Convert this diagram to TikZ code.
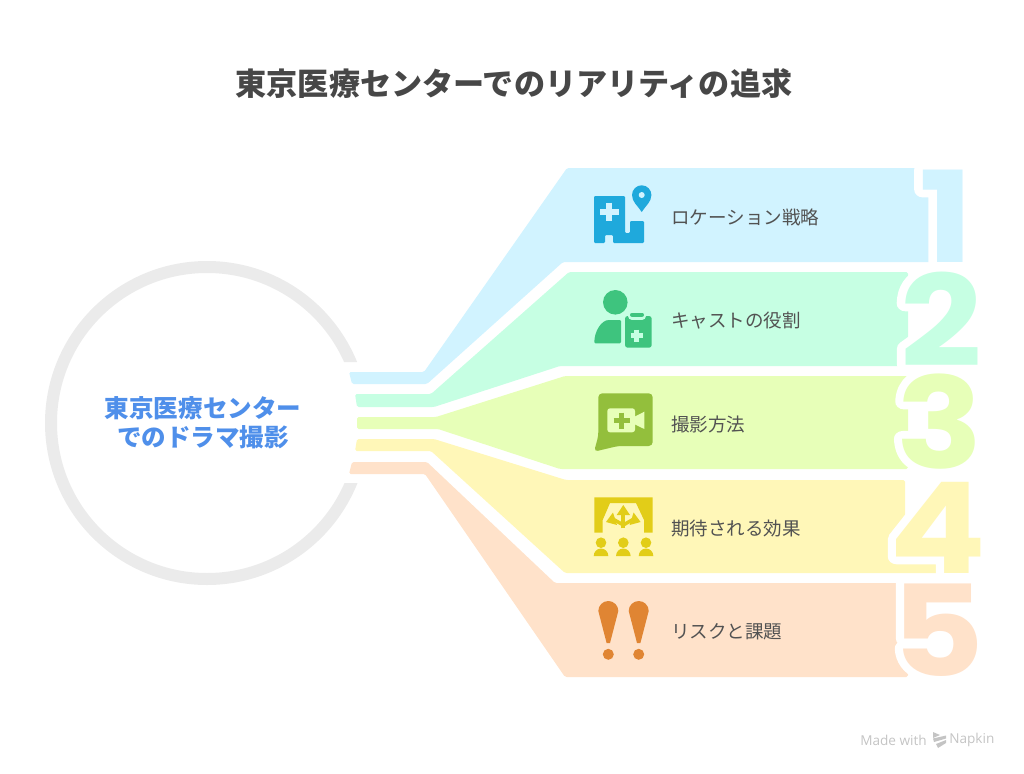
\documentclass[tikz,border=0pt]{standalone}
\usepackage{xcolor}
\usepackage{graphicx}
\usepackage{fontspec}
\setmainfont{Noto Sans CJK JP}
\newfontfamily\digitfont{Poppins}
\newfontfamily\footfont{Open Sans}
\definecolor{band1}{HTML}{D1F3FF}
\definecolor{band2}{HTML}{C6FFE3}
\definecolor{band3}{HTML}{E7FFB8}
\definecolor{band4}{HTML}{FFF7B8}
\definecolor{band5}{HTML}{FFE2CA}
\definecolor{icon1}{HTML}{1FA9DC}
\definecolor{icon2}{HTML}{3EC47E}
\definecolor{icon3}{HTML}{93BF3C}
\definecolor{icon4}{HTML}{E2CD18}
\definecolor{icon5}{HTML}{E08533}
\definecolor{centerblue}{HTML}{4F8FEA}
\newcommand{\bigdigit}[1]{\scalebox{1.13}[1]{\rlap{\color{white}\special{pdf:code 2 Tr 11.6 w 1 j}#1\special{pdf:code 0 Tr 1 w 0 j}}#1}}
\tikzstyle{itemtext} = [inner sep=0pt, anchor=west, text=black!68, font=\fontsize{13.9}{16}\selectfont]
\tikzstyle{bignum} = [inner sep=0pt, anchor=base, font=\digitfont\bfseries\fontsize{95}{95}\selectfont]
\tikzstyle{band} = [rounded corners=1.2pt]
\begin{document}
\begin{tikzpicture}[x=0.75pt, y=-0.75pt]
		\useasboundingbox (0,0) rectangle (1024,774);
		\node (0title) [inner sep=0pt, text=black!72, font=\bfseries\fontsize{23.35}{28}\selectfont] at (514,84) {東京医療センターでのリアリティの追求};

		% ring
		\begin{scope}
			\clip (30,250) -- (370,250) -- (370,362) -- (300,362) -- (300,483) -- (370,483) -- (370,600) -- (30,600) -- cycle;
			\draw [line width=9pt, black!8] (207,423) circle [radius=156];
		\end{scope}
		\node (0center) [align=center, inner sep=0pt, text=centerblue, font=\bfseries\fontsize{18.4}{22}\selectfont] at (203,423) {東京医療センター\\でのドラマ撮影};

		% bands
		\fill [band, band1] (349,372) -- (424,372) -- (567,168) -- (945,168) -- (945,262) -- (563,262) -- (427,384) -- (352,384) -- cycle;
		\fill [band, band2] (355,394) -- (431,394) -- (569,272) -- (908,272) -- (908,366) -- (560,366) -- (434,407) -- (357,407) -- cycle;
		\fill [band, band3] (357,417) -- (436,417) -- (565,376) -- (908,376) -- (908,469) -- (560,469) -- (438,429) -- (357,429) -- cycle;
		\fill [band, band4] (357,439) -- (434,439) -- (566,480) -- (905,480) -- (905,560) -- (945,560) -- (945,573) -- (565,573) -- (431,451) -- (355,451) -- cycle;
		\fill [band, band5] (352,462) -- (427,462) -- (555,583) -- (908,583) -- (908,677) -- (565,677) -- (425,474) -- (349,474) -- cycle;

		\node (1num) [bignum, text=band1] at (946,262) {\bigdigit{1}};
		\node (2num) [bignum, text=band2] at (941,366) {\bigdigit{2}};
		\node (3num) [bignum, text=band3] at (940,468) {\bigdigit{3}};
		\node (4num) [bignum, text=band4] at (938,573) {\bigdigit{4}};
		\node (5num) [bignum, text=band5] at (938,676) {\bigdigit{5}};

		\node (1label) [itemtext] at (671,217) {ロケーション戦略};
		\node (2label) [itemtext, yshift=-77.8pt] at (1label.west) {キャストの役割};
		\node (3label) [itemtext, yshift=-77.8pt] at (2label.west) {撮影方法};
		\node (4label) [itemtext, yshift=-77.8pt] at (3label.west) {期待される効果};
		\node (5label) [itemtext, yshift=-77.8pt] at (4label.west) {リスクと課題};

		% hospital and pin
		\fill [icon1, rounded corners=0.8pt] (594,196) -- (625,196) -- (625,233) -- (630,233) -- (630,221) -- (644,221) -- (644,243) -- (613,243) -- (613,235) -- (605,235) -- (605,243) -- (594,243) -- cycle;
		\draw [band1, line width=4.5pt] (600,211.7) -- (618.5,211.7);
		\draw [band1, line width=4.5pt] (609.3,202.5) -- (609.3,221);
		\fill [icon1] (641.7,212) .. controls (638,206) and (632,202) .. (632,195) arc [start angle=180, end angle=360, radius=9.7] .. controls (651.4,202) and (645.4,206) .. (641.7,212) -- cycle;
		\fill [band1] (641.7,195) circle [radius=3];

		% person and clipboard
		\fill [icon2] (615.3,302.3) circle [radius=12.3];
		\fill [icon2, rounded corners=0.8pt] (594.3,343.3) -- (621,343.3) -- (621,320) -- (610,320) .. controls (601,320) and (594.3,332) .. (594.3,343.3) -- cycle;
		\fill [icon2, rounded corners=2pt] (625,316) -- (651.7,316) -- (651.7,347.7) -- (625,347.7) -- cycle;
		\draw [band2, line width=6pt, line cap=round] (632,316) -- (642,316);
		\draw [icon2, line width=3pt, line cap=round] (632,314.7) -- (642,314.7);
		\draw [band2, line width=3.4pt] (630.5,335.7) -- (643,335.7);
		\draw [band2, line width=3.4pt] (636.7,329.5) -- (636.7,342);

		% bubble and camera
		\fill [icon3, rounded corners=3pt] (598.3,393.3) -- (652.7,393.3) -- (652.7,446) -- (618,446) -- (594,451.7) -- (598.3,436) -- cycle;
		\fill [band3, rounded corners=2pt] (607.3,408.3) -- (635,408.3) -- (635,432.3) -- (607.3,432.3) -- cycle;
		\fill [band3] (634,417) -- (644.3,411.7) -- (644.3,429) -- (634,424) -- cycle;
		\draw [icon3, line width=3.8pt] (613.7,420.7) -- (629.7,420.7);
		\draw [icon3, line width=3.8pt] (621.7,412.7) -- (621.7,428.7);

		% stage and audience
		\fill [icon4] (594.3,497.3) -- (652.7,497.3) -- (652.7,532.7) -- (644,532.7) -- (644,520) -- (636,503) -- (610,503) -- (602.7,520) -- (602.7,532.7) -- (594.3,532.7) -- cycle;
		\draw [icon4, line width=3pt] (623.3,528.3) -- (623.3,512);
		\draw [icon4, line width=2.6pt] (623.3,525) -- (612,518.5);
		\draw [icon4, line width=2.6pt] (623.3,525) -- (634.6,518.5);
		\fill [icon4] (623.3,505) -- (630,515) -- (616.7,515) -- cycle;
		\fill [icon4] (606,522) -- (613,512.5) -- (617,525) -- cycle;
		\fill [icon4] (640.6,522) -- (633.6,512.5) -- (629.6,525) -- cycle;
		\fill [icon4] (601,542.7) circle [radius=5.3];
		\fill [icon4] (623.3,542.7) circle [radius=5.3];
		\fill [icon4] (646,542.7) circle [radius=5.3];
		\fill [icon4] (593.7,556) arc [start angle=180, end angle=360, x radius=7.3, y radius=7.5] -- cycle;
		\fill [icon4] (616,556) arc [start angle=180, end angle=360, x radius=7.3, y radius=7.5] -- cycle;
		\fill [icon4] (638.7,556) arc [start angle=180, end angle=360, x radius=7.3, y radius=7.5] -- cycle;

		% warning marks
		\fill [icon5] (606.6,643) -- (598.3,611) arc [start angle=180, end angle=360, radius=10] -- (610,643) -- cycle;
		\fill [icon5] (608.3,654.3) circle [radius=5.5];
		\fill [icon5] (637,643) -- (628.7,611) arc [start angle=180, end angle=360, radius=10] -- (640.4,643) -- cycle;
		\fill [icon5] (638.7,654.3) circle [radius=5.5];

		% footer
		\node (0made) [inner sep=0pt, anchor=west, text=black!23, font=\footfont\fontsize{10.2}{12}\selectfont] at (860,740) {Made with};
		\node (0napkin) [inner sep=0pt, anchor=west, text=black!23, font=\footfont\fontsize{10.2}{12}\selectfont] at (949,740) {Napkin};
		\fill [black!23] (933,732) -- (940,735) -- (933,738) -- cycle;
		\fill [black!23] (933,738.5) -- (946,735.5) -- (946,738.5) -- (934,742) -- cycle;
		\fill [black!23] (936,744) -- (946,740) -- (946,743) -- (938,748) -- cycle;
	\end{tikzpicture}
\end{document}
